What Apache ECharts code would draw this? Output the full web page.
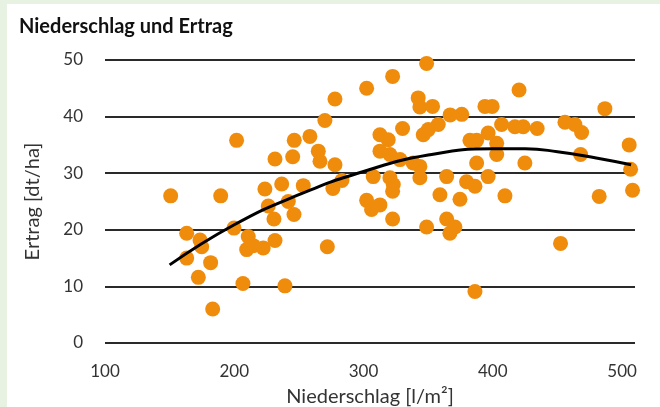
<!DOCTYPE html>
<html><head><meta charset="utf-8">
<script src="https://cdn.jsdelivr.net/npm/echarts@6/dist/echarts.min.js"></script>
<style>
html,body{margin:0;padding:0;width:660px;height:407px;overflow:hidden;background:#e8f2e3;}
#bg{position:absolute;left:7px;top:4px;width:653px;height:403px;background:#fff;}
#c{position:absolute;left:0;top:0;width:660px;height:407px;}
</style></head>
<body><div id="bg"></div><div id="c"></div>
<script>
// Niederschlag [l/m²]
const rainfall = [201.8,246.4,258.5,231.5,245.2,150.8,189.5,223.7,236.7,253.4,
  348.8,322.5,302.4,277.9,342.3,343.6,353.4,367,376,270.1,
  265,266.3,277.9,312.7,319.1,330.2,346.2,350.1,357.8,382.3,
  312.7,320.4,328.2,338.4,343.6,307.5,320.4,323,343.6,364.3,
  359.1,374.6,302.4,306.2,312.7,322.5,348.8,364.3,370.7,366.8,
  452.4,272,276.3,283.3,322.5,
  226.3,241.8,246.2,230.7,163.2,173.5,174.8,163.2,181.7,172.2,
  183.3,199.8,210.8,209.6,214.7,222.4,231.5,206.7,239.2,386.2,
  393.9,399.5,420.3,486.7,406.8,417.1,423.5,434.3,455.8,463.5,
  468.7,396.4,387.5,403,403,505.5,467.9,387.5,424.8,506.6,
  396.4,379.7,386.2,409.4,482.3,508.1];
// Ertrag [dt/ha]
const yieldVals = [35.8,35.8,36.5,32.5,32.9,26.0,26.0,27.2,28.1,27.8,
  49.4,47.1,45.0,43.1,43.3,41.7,41.8,40.3,40.4,39.3,
  33.9,32.1,31.5,36.8,35.9,37.9,36.8,37.7,38.6,35.8,
  33.9,33.3,32.4,31.8,31.2,29.4,29.2,28.0,29.2,29.4,
  26.2,25.4,25.2,23.6,24.4,21.9,20.5,21.9,20.5,19.4,
  17.6,17.0,27.3,28.7,26.8,
  24.2,25.0,22.7,21.9,19.4,18.2,17.0,15.0,14.2,11.6,
  6.0,20.3,18.8,16.5,17.2,16.8,18.1,10.5,10.1,9.1,
  41.8,41.8,44.7,41.4,38.6,38.2,38.2,37.9,39.0,38.6,
  37.2,37.1,35.8,35.3,33.3,35.0,33.3,31.8,31.8,30.7,
  29.4,28.5,27.7,26.0,25.9,27.0];
// trend line
const trendX = [150,200,250,300,350,400,425,450,480,507];
const trendY = [13.8,20.9,26.2,30.3,33.2,34.3,34.3,33.8,32.7,31.5];
const xTicks = [100,200,300,400,500];
const yTicks = [0,10,20,30,40,50];

const chart = echarts.init(document.getElementById('c'), null, {renderer:'canvas'});
const FONT = 'Lato';
chart.setOption({
  animation:false,
  title:{text:'Niederschlag und Ertrag', left:14, top:12,
    textStyle:{fontFamily:FONT, fontWeight:'bold', fontSize:20, color:'#111'}},
  grid:{left:105, right:25, top:60, bottom:64, containLabel:false, outerBoundsMode:'none'},
  xAxis:{type:'value', min:100, max:510, interval:100,
    axisLine:{show:false}, axisTick:{show:false}, splitLine:{show:false},
    axisLabel:{margin:20, fontFamily:FONT, fontSize:17, color:'#333',
      formatter:v=>xTicks.includes(v)?String(v):''},
    name:'Niederschlag [l/m²]', nameLocation:'middle', nameGap:44,
    nameTextStyle:{fontFamily:FONT, fontSize:20, color:'#333'}},
  yAxis:{type:'value', min:0, max:50, interval:10,
    axisLine:{show:false}, axisTick:{show:false},
    splitLine:{lineStyle:{color:'#2a2a2a', width:2}},
    axisLabel:{margin:22, fontFamily:FONT, fontSize:17, color:'#333',
      formatter:v=>yTicks.includes(v)?String(v):''},
    name:'Ertrag [dt/ha]', nameLocation:'middle', nameGap:62, nameRotate:90,
    nameTextStyle:{fontFamily:FONT, fontSize:20, color:'#333'}},
  series:[
    {type:'scatter', symbolSize:15, itemStyle:{color:'#f08c0c', opacity:1},
     data:rainfall.map((x,i)=>[x,yieldVals[i]]), z:2},
    {type:'line', smooth:true, showSymbol:false, symbol:'none',
     lineStyle:{color:'#000', width:3},
     data:trendX.map((x,i)=>[x,trendY[i]]), z:3}
  ]
});
</script></body></html>
